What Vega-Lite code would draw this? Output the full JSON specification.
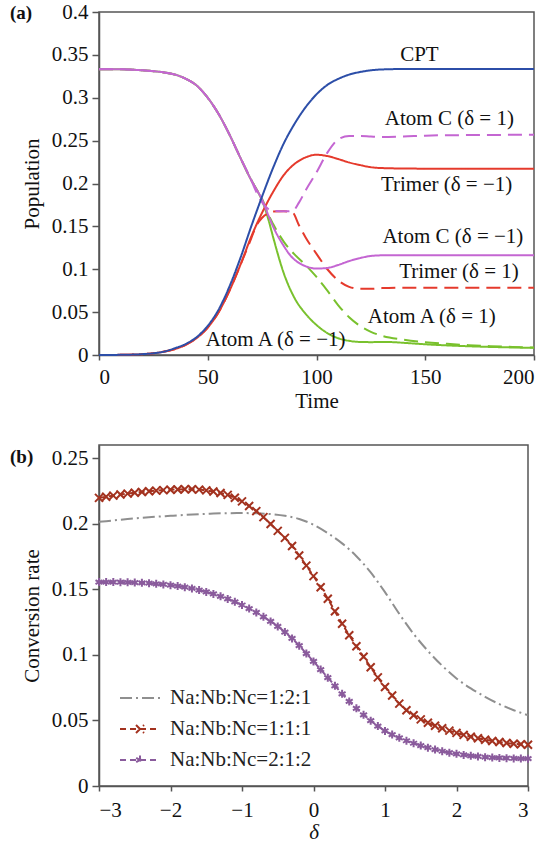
{
  "$schema": "https://vega.github.io/schema/vega-lite/v6.json",
  "padding": {"left": 9, "top": 0, "right": 0, "bottom": 0},
  "spacing": 32,
  "resolve": {"scale": {"color": "independent", "strokeDash": "independent", "shape": "independent"}, "legend": {"color": "independent", "strokeDash": "independent", "shape": "independent"}},
  "config": {
    "font": "Liberation Serif",
    "view": {"stroke": "#555", "strokeWidth": 1.5},
    "axis": {"grid": false, "domainColor": "#555", "domainWidth": 1.5, "tickColor": "#555", "tickWidth": 1.5, "tickSize": 7, "labelFont": "Liberation Serif", "labelFontSize": 21, "labelColor": "#111", "labelPadding": 4, "titleFont": "Liberation Serif", "titleFontSize": 21, "titleFontWeight": "normal", "titleColor": "#111"},
    "axisX": {"titlePadding": 3, "tickSize": 5, "labelPadding": 6},
    "axisY": {"titlePadding": 9},
    "legend": {"labelFont": "Liberation Serif"},
    "title": {"font": "Liberation Serif", "fontSize": 19, "fontWeight": "bold", "color": "#111"}
  },
  "datasets": {
    "top": [
      {"t":0,"v":0.3333,"s":"AtomA","d":"1"},{"t":10,"v":0.3332,"s":"AtomA","d":"1"},{"t":20,"v":0.332,"s":"AtomA","d":"1"},{"t":25,"v":0.331,"s":"AtomA","d":"1"},{"t":30,"v":0.3295,"s":"AtomA","d":"1"},{"t":35,"v":0.327,"s":"AtomA","d":"1"},{"t":40,"v":0.322,"s":"AtomA","d":"1"},{"t":45,"v":0.314,"s":"AtomA","d":"1"},{"t":50,"v":0.3,"s":"AtomA","d":"1"},{"t":55,"v":0.281,"s":"AtomA","d":"1"},{"t":60,"v":0.257,"s":"AtomA","d":"1"},{"t":65,"v":0.23,"s":"AtomA","d":"1"},{"t":70,"v":0.204,"s":"AtomA","d":"1"},{"t":72,"v":0.195,"s":"AtomA","d":"1"},{"t":75,"v":0.182,"s":"AtomA","d":"1"},{"t":78,"v":0.163,"s":"AtomA","d":"1"},{"t":80,"v":0.153,"s":"AtomA","d":"1"},{"t":85,"v":0.132,"s":"AtomA","d":"1"},{"t":90,"v":0.117,"s":"AtomA","d":"1"},{"t":95,"v":0.105,"s":"AtomA","d":"1"},{"t":100,"v":0.091,"s":"AtomA","d":"1"},{"t":105,"v":0.075,"s":"AtomA","d":"1"},{"t":110,"v":0.058,"s":"AtomA","d":"1"},{"t":115,"v":0.044,"s":"AtomA","d":"1"},{"t":120,"v":0.034,"s":"AtomA","d":"1"},{"t":125,"v":0.027,"s":"AtomA","d":"1"},{"t":130,"v":0.0225,"s":"AtomA","d":"1"},{"t":140,"v":0.018,"s":"AtomA","d":"1"},{"t":150,"v":0.015,"s":"AtomA","d":"1"},{"t":160,"v":0.013,"s":"AtomA","d":"1"},{"t":170,"v":0.0115,"s":"AtomA","d":"1"},{"t":180,"v":0.0103,"s":"AtomA","d":"1"},{"t":190,"v":0.0094,"s":"AtomA","d":"1"},{"t":200,"v":0.0087,"s":"AtomA","d":"1"},

      {"t":0,"v":0.3333,"s":"AtomA","d":"-1"},{"t":10,"v":0.3332,"s":"AtomA","d":"-1"},{"t":20,"v":0.332,"s":"AtomA","d":"-1"},{"t":25,"v":0.331,"s":"AtomA","d":"-1"},{"t":30,"v":0.3295,"s":"AtomA","d":"-1"},{"t":35,"v":0.327,"s":"AtomA","d":"-1"},{"t":40,"v":0.322,"s":"AtomA","d":"-1"},{"t":45,"v":0.314,"s":"AtomA","d":"-1"},{"t":50,"v":0.3,"s":"AtomA","d":"-1"},{"t":55,"v":0.281,"s":"AtomA","d":"-1"},{"t":60,"v":0.257,"s":"AtomA","d":"-1"},{"t":65,"v":0.23,"s":"AtomA","d":"-1"},{"t":70,"v":0.204,"s":"AtomA","d":"-1"},{"t":72,"v":0.195,"s":"AtomA","d":"-1"},{"t":75,"v":0.18,"s":"AtomA","d":"-1"},{"t":78,"v":0.157,"s":"AtomA","d":"-1"},{"t":80,"v":0.138,"s":"AtomA","d":"-1"},{"t":85,"v":0.095,"s":"AtomA","d":"-1"},{"t":90,"v":0.066,"s":"AtomA","d":"-1"},{"t":95,"v":0.048,"s":"AtomA","d":"-1"},{"t":100,"v":0.035,"s":"AtomA","d":"-1"},{"t":105,"v":0.0255,"s":"AtomA","d":"-1"},{"t":110,"v":0.0195,"s":"AtomA","d":"-1"},{"t":115,"v":0.0165,"s":"AtomA","d":"-1"},{"t":120,"v":0.0152,"s":"AtomA","d":"-1"},{"t":125,"v":0.015,"s":"AtomA","d":"-1"},{"t":130,"v":0.0152,"s":"AtomA","d":"-1"},{"t":135,"v":0.015,"s":"AtomA","d":"-1"},{"t":140,"v":0.0142,"s":"AtomA","d":"-1"},{"t":150,"v":0.0125,"s":"AtomA","d":"-1"},{"t":160,"v":0.0112,"s":"AtomA","d":"-1"},{"t":170,"v":0.0102,"s":"AtomA","d":"-1"},{"t":180,"v":0.0094,"s":"AtomA","d":"-1"},{"t":190,"v":0.0088,"s":"AtomA","d":"-1"},{"t":200,"v":0.0083,"s":"AtomA","d":"-1"},

      {"t":0,"v":0,"s":"Trimer","d":"1"},{"t":10,"v":0.0002,"s":"Trimer","d":"1"},{"t":20,"v":0.001,"s":"Trimer","d":"1"},{"t":25,"v":0.002,"s":"Trimer","d":"1"},{"t":30,"v":0.004,"s":"Trimer","d":"1"},{"t":35,"v":0.007,"s":"Trimer","d":"1"},{"t":40,"v":0.012,"s":"Trimer","d":"1"},{"t":45,"v":0.02,"s":"Trimer","d":"1"},{"t":50,"v":0.032,"s":"Trimer","d":"1"},{"t":55,"v":0.05,"s":"Trimer","d":"1"},{"t":60,"v":0.075,"s":"Trimer","d":"1"},{"t":65,"v":0.105,"s":"Trimer","d":"1"},{"t":70,"v":0.136,"s":"Trimer","d":"1"},{"t":72,"v":0.149,"s":"Trimer","d":"1"},{"t":75,"v":0.16,"s":"Trimer","d":"1"},{"t":78,"v":0.1655,"s":"Trimer","d":"1"},{"t":80,"v":0.1672,"s":"Trimer","d":"1"},{"t":85,"v":0.1675,"s":"Trimer","d":"1"},{"t":89,"v":0.166,"s":"Trimer","d":"1"},{"t":92,"v":0.151,"s":"Trimer","d":"1"},{"t":95,"v":0.137,"s":"Trimer","d":"1"},{"t":100,"v":0.118,"s":"Trimer","d":"1"},{"t":105,"v":0.1,"s":"Trimer","d":"1"},{"t":110,"v":0.087,"s":"Trimer","d":"1"},{"t":115,"v":0.0795,"s":"Trimer","d":"1"},{"t":120,"v":0.0772,"s":"Trimer","d":"1"},{"t":125,"v":0.0772,"s":"Trimer","d":"1"},{"t":130,"v":0.078,"s":"Trimer","d":"1"},{"t":140,"v":0.0785,"s":"Trimer","d":"1"},{"t":160,"v":0.0785,"s":"Trimer","d":"1"},{"t":200,"v":0.0785,"s":"Trimer","d":"1"},

      {"t":0,"v":0,"s":"Trimer","d":"-1"},{"t":10,"v":0.0002,"s":"Trimer","d":"-1"},{"t":20,"v":0.001,"s":"Trimer","d":"-1"},{"t":25,"v":0.002,"s":"Trimer","d":"-1"},{"t":30,"v":0.004,"s":"Trimer","d":"-1"},{"t":35,"v":0.007,"s":"Trimer","d":"-1"},{"t":40,"v":0.012,"s":"Trimer","d":"-1"},{"t":45,"v":0.02,"s":"Trimer","d":"-1"},{"t":50,"v":0.032,"s":"Trimer","d":"-1"},{"t":55,"v":0.05,"s":"Trimer","d":"-1"},{"t":60,"v":0.075,"s":"Trimer","d":"-1"},{"t":65,"v":0.105,"s":"Trimer","d":"-1"},{"t":70,"v":0.138,"s":"Trimer","d":"-1"},{"t":75,"v":0.166,"s":"Trimer","d":"-1"},{"t":80,"v":0.19,"s":"Trimer","d":"-1"},{"t":85,"v":0.21,"s":"Trimer","d":"-1"},{"t":90,"v":0.223,"s":"Trimer","d":"-1"},{"t":95,"v":0.2305,"s":"Trimer","d":"-1"},{"t":100,"v":0.2335,"s":"Trimer","d":"-1"},{"t":105,"v":0.232,"s":"Trimer","d":"-1"},{"t":110,"v":0.2285,"s":"Trimer","d":"-1"},{"t":115,"v":0.2245,"s":"Trimer","d":"-1"},{"t":120,"v":0.2215,"s":"Trimer","d":"-1"},{"t":125,"v":0.219,"s":"Trimer","d":"-1"},{"t":130,"v":0.218,"s":"Trimer","d":"-1"},{"t":140,"v":0.2175,"s":"Trimer","d":"-1"},{"t":160,"v":0.2172,"s":"Trimer","d":"-1"},{"t":200,"v":0.2172,"s":"Trimer","d":"-1"},

      {"t":0,"v":0.3333,"s":"AtomC","d":"1"},{"t":10,"v":0.3332,"s":"AtomC","d":"1"},{"t":20,"v":0.332,"s":"AtomC","d":"1"},{"t":25,"v":0.331,"s":"AtomC","d":"1"},{"t":30,"v":0.3295,"s":"AtomC","d":"1"},{"t":35,"v":0.327,"s":"AtomC","d":"1"},{"t":40,"v":0.322,"s":"AtomC","d":"1"},{"t":45,"v":0.314,"s":"AtomC","d":"1"},{"t":50,"v":0.3,"s":"AtomC","d":"1"},{"t":55,"v":0.281,"s":"AtomC","d":"1"},{"t":60,"v":0.257,"s":"AtomC","d":"1"},{"t":65,"v":0.23,"s":"AtomC","d":"1"},{"t":70,"v":0.204,"s":"AtomC","d":"1"},{"t":72,"v":0.192,"s":"AtomC","d":"1"},{"t":75,"v":0.178,"s":"AtomC","d":"1"},{"t":78,"v":0.17,"s":"AtomC","d":"1"},{"t":80,"v":0.168,"s":"AtomC","d":"1"},{"t":85,"v":0.1675,"s":"AtomC","d":"1"},{"t":89,"v":0.168,"s":"AtomC","d":"1"},{"t":92,"v":0.178,"s":"AtomC","d":"1"},{"t":95,"v":0.192,"s":"AtomC","d":"1"},{"t":100,"v":0.213,"s":"AtomC","d":"1"},{"t":105,"v":0.236,"s":"AtomC","d":"1"},{"t":110,"v":0.2515,"s":"AtomC","d":"1"},{"t":115,"v":0.2555,"s":"AtomC","d":"1"},{"t":120,"v":0.2555,"s":"AtomC","d":"1"},{"t":125,"v":0.2548,"s":"AtomC","d":"1"},{"t":130,"v":0.2543,"s":"AtomC","d":"1"},{"t":140,"v":0.2548,"s":"AtomC","d":"1"},{"t":150,"v":0.2558,"s":"AtomC","d":"1"},{"t":170,"v":0.2565,"s":"AtomC","d":"1"},{"t":200,"v":0.2568,"s":"AtomC","d":"1"},

      {"t":0,"v":0.3333,"s":"AtomC","d":"-1"},{"t":10,"v":0.3332,"s":"AtomC","d":"-1"},{"t":20,"v":0.332,"s":"AtomC","d":"-1"},{"t":25,"v":0.331,"s":"AtomC","d":"-1"},{"t":30,"v":0.3295,"s":"AtomC","d":"-1"},{"t":35,"v":0.327,"s":"AtomC","d":"-1"},{"t":40,"v":0.322,"s":"AtomC","d":"-1"},{"t":45,"v":0.314,"s":"AtomC","d":"-1"},{"t":50,"v":0.3,"s":"AtomC","d":"-1"},{"t":55,"v":0.281,"s":"AtomC","d":"-1"},{"t":60,"v":0.257,"s":"AtomC","d":"-1"},{"t":65,"v":0.23,"s":"AtomC","d":"-1"},{"t":70,"v":0.204,"s":"AtomC","d":"-1"},{"t":72,"v":0.195,"s":"AtomC","d":"-1"},{"t":75,"v":0.181,"s":"AtomC","d":"-1"},{"t":78,"v":0.162,"s":"AtomC","d":"-1"},{"t":80,"v":0.15,"s":"AtomC","d":"-1"},{"t":85,"v":0.127,"s":"AtomC","d":"-1"},{"t":88,"v":0.116,"s":"AtomC","d":"-1"},{"t":90,"v":0.111,"s":"AtomC","d":"-1"},{"t":95,"v":0.1035,"s":"AtomC","d":"-1"},{"t":100,"v":0.1008,"s":"AtomC","d":"-1"},{"t":105,"v":0.1015,"s":"AtomC","d":"-1"},{"t":110,"v":0.105,"s":"AtomC","d":"-1"},{"t":115,"v":0.1095,"s":"AtomC","d":"-1"},{"t":120,"v":0.113,"s":"AtomC","d":"-1"},{"t":125,"v":0.1155,"s":"AtomC","d":"-1"},{"t":130,"v":0.1162,"s":"AtomC","d":"-1"},{"t":140,"v":0.1162,"s":"AtomC","d":"-1"},{"t":200,"v":0.1162,"s":"AtomC","d":"-1"},

      {"t":0,"v":0,"s":"CPT","d":"-1"},{"t":10,"v":0.0002,"s":"CPT","d":"-1"},{"t":20,"v":0.001,"s":"CPT","d":"-1"},{"t":25,"v":0.002,"s":"CPT","d":"-1"},{"t":30,"v":0.004,"s":"CPT","d":"-1"},{"t":35,"v":0.008,"s":"CPT","d":"-1"},{"t":40,"v":0.013,"s":"CPT","d":"-1"},{"t":45,"v":0.021,"s":"CPT","d":"-1"},{"t":50,"v":0.034,"s":"CPT","d":"-1"},{"t":55,"v":0.053,"s":"CPT","d":"-1"},{"t":60,"v":0.08,"s":"CPT","d":"-1"},{"t":65,"v":0.113,"s":"CPT","d":"-1"},{"t":70,"v":0.15,"s":"CPT","d":"-1"},{"t":75,"v":0.185,"s":"CPT","d":"-1"},{"t":80,"v":0.218,"s":"CPT","d":"-1"},{"t":85,"v":0.247,"s":"CPT","d":"-1"},{"t":90,"v":0.27,"s":"CPT","d":"-1"},{"t":95,"v":0.289,"s":"CPT","d":"-1"},{"t":100,"v":0.304,"s":"CPT","d":"-1"},{"t":105,"v":0.315,"s":"CPT","d":"-1"},{"t":110,"v":0.322,"s":"CPT","d":"-1"},{"t":115,"v":0.327,"s":"CPT","d":"-1"},{"t":120,"v":0.33,"s":"CPT","d":"-1"},{"t":125,"v":0.332,"s":"CPT","d":"-1"},{"t":130,"v":0.333,"s":"CPT","d":"-1"},{"t":140,"v":0.3335,"s":"CPT","d":"-1"},{"t":200,"v":0.3335,"s":"CPT","d":"-1"}
    ],
    "labels": [
      {"t":147.3,"v":0.3495,"label":"CPT"},
      {"t":161.1,"v":0.2756,"label":"Atom C (δ = 1)"},
      {"t":159.8,"v":0.1986,"label":"Trimer (δ = −1)"},
      {"t":162.7,"v":0.1376,"label":"Atom C (δ = −1)"},
      {"t":165.5,"v":0.0968,"label":"Trimer  (δ = 1)"},
      {"t":153,"v":0.0443,"label":"Atom A (δ = 1)"},
      {"t":81.2,"v":0.0171,"label":"Atom A (δ = −1)"}
    ],
    "bottom": [
      {"x":-3.0,"y":0.2014,"r":"Na:Nb:Nc=1:2:1"},{"x":-2.8,"y":0.2025,"r":"Na:Nb:Nc=1:2:1"},{"x":-2.6,"y":0.2036,"r":"Na:Nb:Nc=1:2:1"},{"x":-2.4,"y":0.2045,"r":"Na:Nb:Nc=1:2:1"},{"x":-2.2,"y":0.2053,"r":"Na:Nb:Nc=1:2:1"},{"x":-2.0,"y":0.206,"r":"Na:Nb:Nc=1:2:1"},{"x":-1.8,"y":0.2067,"r":"Na:Nb:Nc=1:2:1"},{"x":-1.6,"y":0.2073,"r":"Na:Nb:Nc=1:2:1"},{"x":-1.4,"y":0.2077,"r":"Na:Nb:Nc=1:2:1"},{"x":-1.2,"y":0.208,"r":"Na:Nb:Nc=1:2:1"},{"x":-1.0,"y":0.2081,"r":"Na:Nb:Nc=1:2:1"},{"x":-0.8,"y":0.2079,"r":"Na:Nb:Nc=1:2:1"},{"x":-0.6,"y":0.2073,"r":"Na:Nb:Nc=1:2:1"},{"x":-0.4,"y":0.206,"r":"Na:Nb:Nc=1:2:1"},{"x":-0.2,"y":0.2036,"r":"Na:Nb:Nc=1:2:1"},{"x":0.0,"y":0.1992,"r":"Na:Nb:Nc=1:2:1"},{"x":0.2,"y":0.1928,"r":"Na:Nb:Nc=1:2:1"},{"x":0.4,"y":0.185,"r":"Na:Nb:Nc=1:2:1"},{"x":0.6,"y":0.1752,"r":"Na:Nb:Nc=1:2:1"},{"x":0.8,"y":0.1628,"r":"Na:Nb:Nc=1:2:1"},{"x":1.0,"y":0.1478,"r":"Na:Nb:Nc=1:2:1"},{"x":1.2,"y":0.1312,"r":"Na:Nb:Nc=1:2:1"},{"x":1.4,"y":0.116,"r":"Na:Nb:Nc=1:2:1"},{"x":1.6,"y":0.103,"r":"Na:Nb:Nc=1:2:1"},{"x":1.8,"y":0.0917,"r":"Na:Nb:Nc=1:2:1"},{"x":2.0,"y":0.082,"r":"Na:Nb:Nc=1:2:1"},{"x":2.2,"y":0.0744,"r":"Na:Nb:Nc=1:2:1"},{"x":2.4,"y":0.068,"r":"Na:Nb:Nc=1:2:1"},{"x":2.6,"y":0.0624,"r":"Na:Nb:Nc=1:2:1"},{"x":2.8,"y":0.0578,"r":"Na:Nb:Nc=1:2:1"},{"x":3.0,"y":0.054,"r":"Na:Nb:Nc=1:2:1"},

      {"x":-3.0,"y":0.2197,"r":"Na:Nb:Nc=1:1:1"},{"x":-2.9,"y":0.2206,"r":"Na:Nb:Nc=1:1:1"},{"x":-2.8,"y":0.2214,"r":"Na:Nb:Nc=1:1:1"},{"x":-2.7,"y":0.2222,"r":"Na:Nb:Nc=1:1:1"},{"x":-2.6,"y":0.2229,"r":"Na:Nb:Nc=1:1:1"},{"x":-2.5,"y":0.2236,"r":"Na:Nb:Nc=1:1:1"},{"x":-2.4,"y":0.2242,"r":"Na:Nb:Nc=1:1:1"},{"x":-2.3,"y":0.2247,"r":"Na:Nb:Nc=1:1:1"},{"x":-2.2,"y":0.2252,"r":"Na:Nb:Nc=1:1:1"},{"x":-2.1,"y":0.2256,"r":"Na:Nb:Nc=1:1:1"},{"x":-2.0,"y":0.2259,"r":"Na:Nb:Nc=1:1:1"},{"x":-1.9,"y":0.2261,"r":"Na:Nb:Nc=1:1:1"},{"x":-1.8,"y":0.2262,"r":"Na:Nb:Nc=1:1:1"},{"x":-1.7,"y":0.2262,"r":"Na:Nb:Nc=1:1:1"},{"x":-1.6,"y":0.226,"r":"Na:Nb:Nc=1:1:1"},{"x":-1.5,"y":0.2254,"r":"Na:Nb:Nc=1:1:1"},{"x":-1.4,"y":0.2246,"r":"Na:Nb:Nc=1:1:1"},{"x":-1.3,"y":0.2234,"r":"Na:Nb:Nc=1:1:1"},{"x":-1.2,"y":0.222,"r":"Na:Nb:Nc=1:1:1"},{"x":-1.1,"y":0.2198,"r":"Na:Nb:Nc=1:1:1"},{"x":-1.0,"y":0.217,"r":"Na:Nb:Nc=1:1:1"},{"x":-0.9,"y":0.2135,"r":"Na:Nb:Nc=1:1:1"},{"x":-0.8,"y":0.2096,"r":"Na:Nb:Nc=1:1:1"},{"x":-0.7,"y":0.205,"r":"Na:Nb:Nc=1:1:1"},{"x":-0.6,"y":0.1998,"r":"Na:Nb:Nc=1:1:1"},{"x":-0.5,"y":0.1945,"r":"Na:Nb:Nc=1:1:1"},{"x":-0.4,"y":0.1892,"r":"Na:Nb:Nc=1:1:1"},{"x":-0.3,"y":0.183,"r":"Na:Nb:Nc=1:1:1"},{"x":-0.2,"y":0.1757,"r":"Na:Nb:Nc=1:1:1"},{"x":-0.1,"y":0.168,"r":"Na:Nb:Nc=1:1:1"},{"x":0.0,"y":0.16,"r":"Na:Nb:Nc=1:1:1"},{"x":0.1,"y":0.1515,"r":"Na:Nb:Nc=1:1:1"},{"x":0.2,"y":0.1428,"r":"Na:Nb:Nc=1:1:1"},{"x":0.3,"y":0.1333,"r":"Na:Nb:Nc=1:1:1"},{"x":0.4,"y":0.1237,"r":"Na:Nb:Nc=1:1:1"},{"x":0.5,"y":0.115,"r":"Na:Nb:Nc=1:1:1"},{"x":0.6,"y":0.1065,"r":"Na:Nb:Nc=1:1:1"},{"x":0.7,"y":0.0985,"r":"Na:Nb:Nc=1:1:1"},{"x":0.8,"y":0.0905,"r":"Na:Nb:Nc=1:1:1"},{"x":0.9,"y":0.0828,"r":"Na:Nb:Nc=1:1:1"},{"x":1.0,"y":0.0755,"r":"Na:Nb:Nc=1:1:1"},{"x":1.1,"y":0.069,"r":"Na:Nb:Nc=1:1:1"},{"x":1.2,"y":0.0628,"r":"Na:Nb:Nc=1:1:1"},{"x":1.3,"y":0.0578,"r":"Na:Nb:Nc=1:1:1"},{"x":1.4,"y":0.054,"r":"Na:Nb:Nc=1:1:1"},{"x":1.5,"y":0.0508,"r":"Na:Nb:Nc=1:1:1"},{"x":1.6,"y":0.0482,"r":"Na:Nb:Nc=1:1:1"},{"x":1.7,"y":0.046,"r":"Na:Nb:Nc=1:1:1"},{"x":1.8,"y":0.044,"r":"Na:Nb:Nc=1:1:1"},{"x":1.9,"y":0.0422,"r":"Na:Nb:Nc=1:1:1"},{"x":2.0,"y":0.0405,"r":"Na:Nb:Nc=1:1:1"},{"x":2.1,"y":0.039,"r":"Na:Nb:Nc=1:1:1"},{"x":2.2,"y":0.0376,"r":"Na:Nb:Nc=1:1:1"},{"x":2.3,"y":0.0364,"r":"Na:Nb:Nc=1:1:1"},{"x":2.4,"y":0.0353,"r":"Na:Nb:Nc=1:1:1"},{"x":2.5,"y":0.0343,"r":"Na:Nb:Nc=1:1:1"},{"x":2.6,"y":0.0335,"r":"Na:Nb:Nc=1:1:1"},{"x":2.7,"y":0.0328,"r":"Na:Nb:Nc=1:1:1"},{"x":2.8,"y":0.0322,"r":"Na:Nb:Nc=1:1:1"},{"x":2.9,"y":0.0318,"r":"Na:Nb:Nc=1:1:1"},{"x":3.0,"y":0.0315,"r":"Na:Nb:Nc=1:1:1"},

      {"x":-3.0,"y":0.1555,"r":"Na:Nb:Nc=2:1:2"},{"x":-2.9,"y":0.1555,"r":"Na:Nb:Nc=2:1:2"},{"x":-2.8,"y":0.1555,"r":"Na:Nb:Nc=2:1:2"},{"x":-2.7,"y":0.1554,"r":"Na:Nb:Nc=2:1:2"},{"x":-2.6,"y":0.1553,"r":"Na:Nb:Nc=2:1:2"},{"x":-2.5,"y":0.1551,"r":"Na:Nb:Nc=2:1:2"},{"x":-2.4,"y":0.1549,"r":"Na:Nb:Nc=2:1:2"},{"x":-2.3,"y":0.1546,"r":"Na:Nb:Nc=2:1:2"},{"x":-2.2,"y":0.1542,"r":"Na:Nb:Nc=2:1:2"},{"x":-2.1,"y":0.1537,"r":"Na:Nb:Nc=2:1:2"},{"x":-2.0,"y":0.1531,"r":"Na:Nb:Nc=2:1:2"},{"x":-1.9,"y":0.1524,"r":"Na:Nb:Nc=2:1:2"},{"x":-1.8,"y":0.1516,"r":"Na:Nb:Nc=2:1:2"},{"x":-1.7,"y":0.1506,"r":"Na:Nb:Nc=2:1:2"},{"x":-1.6,"y":0.1494,"r":"Na:Nb:Nc=2:1:2"},{"x":-1.5,"y":0.148,"r":"Na:Nb:Nc=2:1:2"},{"x":-1.4,"y":0.1464,"r":"Na:Nb:Nc=2:1:2"},{"x":-1.3,"y":0.1446,"r":"Na:Nb:Nc=2:1:2"},{"x":-1.2,"y":0.1426,"r":"Na:Nb:Nc=2:1:2"},{"x":-1.1,"y":0.1404,"r":"Na:Nb:Nc=2:1:2"},{"x":-1.0,"y":0.138,"r":"Na:Nb:Nc=2:1:2"},{"x":-0.9,"y":0.1353,"r":"Na:Nb:Nc=2:1:2"},{"x":-0.8,"y":0.1323,"r":"Na:Nb:Nc=2:1:2"},{"x":-0.7,"y":0.129,"r":"Na:Nb:Nc=2:1:2"},{"x":-0.6,"y":0.1255,"r":"Na:Nb:Nc=2:1:2"},{"x":-0.5,"y":0.1217,"r":"Na:Nb:Nc=2:1:2"},{"x":-0.4,"y":0.1174,"r":"Na:Nb:Nc=2:1:2"},{"x":-0.3,"y":0.1125,"r":"Na:Nb:Nc=2:1:2"},{"x":-0.2,"y":0.107,"r":"Na:Nb:Nc=2:1:2"},{"x":-0.1,"y":0.101,"r":"Na:Nb:Nc=2:1:2"},{"x":0.0,"y":0.095,"r":"Na:Nb:Nc=2:1:2"},{"x":0.1,"y":0.0888,"r":"Na:Nb:Nc=2:1:2"},{"x":0.2,"y":0.0826,"r":"Na:Nb:Nc=2:1:2"},{"x":0.3,"y":0.0764,"r":"Na:Nb:Nc=2:1:2"},{"x":0.4,"y":0.0703,"r":"Na:Nb:Nc=2:1:2"},{"x":0.5,"y":0.0645,"r":"Na:Nb:Nc=2:1:2"},{"x":0.6,"y":0.0592,"r":"Na:Nb:Nc=2:1:2"},{"x":0.7,"y":0.0543,"r":"Na:Nb:Nc=2:1:2"},{"x":0.8,"y":0.0498,"r":"Na:Nb:Nc=2:1:2"},{"x":0.9,"y":0.0457,"r":"Na:Nb:Nc=2:1:2"},{"x":1.0,"y":0.042,"r":"Na:Nb:Nc=2:1:2"},{"x":1.1,"y":0.0392,"r":"Na:Nb:Nc=2:1:2"},{"x":1.2,"y":0.0367,"r":"Na:Nb:Nc=2:1:2"},{"x":1.3,"y":0.0345,"r":"Na:Nb:Nc=2:1:2"},{"x":1.4,"y":0.0326,"r":"Na:Nb:Nc=2:1:2"},{"x":1.5,"y":0.0308,"r":"Na:Nb:Nc=2:1:2"},{"x":1.6,"y":0.0292,"r":"Na:Nb:Nc=2:1:2"},{"x":1.7,"y":0.0278,"r":"Na:Nb:Nc=2:1:2"},{"x":1.8,"y":0.0265,"r":"Na:Nb:Nc=2:1:2"},{"x":1.9,"y":0.0254,"r":"Na:Nb:Nc=2:1:2"},{"x":2.0,"y":0.0245,"r":"Na:Nb:Nc=2:1:2"},{"x":2.1,"y":0.0237,"r":"Na:Nb:Nc=2:1:2"},{"x":2.2,"y":0.023,"r":"Na:Nb:Nc=2:1:2"},{"x":2.3,"y":0.0225,"r":"Na:Nb:Nc=2:1:2"},{"x":2.4,"y":0.022,"r":"Na:Nb:Nc=2:1:2"},{"x":2.5,"y":0.0217,"r":"Na:Nb:Nc=2:1:2"},{"x":2.6,"y":0.0214,"r":"Na:Nb:Nc=2:1:2"},{"x":2.7,"y":0.0212,"r":"Na:Nb:Nc=2:1:2"},{"x":2.8,"y":0.021,"r":"Na:Nb:Nc=2:1:2"},{"x":2.9,"y":0.0209,"r":"Na:Nb:Nc=2:1:2"},{"x":3.0,"y":0.0208,"r":"Na:Nb:Nc=2:1:2"}
    ]
  },
  "vconcat": [
    {
      "width": 435,
      "height": 343,
      "title": {"text": "(a)", "anchor": "start", "frame": "group", "offset": -22, "dx": -89},
      "layer": [
        {
          "data": {"name": "top"},
          "mark": {"type": "line", "strokeWidth": 2, "interpolate": "monotone"},
          "encoding": {
            "x": {"field": "t", "type": "quantitative", "scale": {"domain": [0, 200]}, "axis": {"values": [0, 50, 100, 150, 200], "title": "Time"}},
            "y": {"field": "v", "type": "quantitative", "scale": {"domain": [0, 0.4]}, "axis": {"values": [0, 0.05, 0.1, 0.15, 0.2, 0.25, 0.3, 0.35, 0.4], "format": "~g", "title": "Population"}},
            "color": {"field": "s", "type": "nominal", "scale": {"domain": ["CPT", "Trimer", "AtomC", "AtomA"], "range": ["#2c4ea8", "#e53a2c", "#c466d2", "#79c12d"]}, "legend": null},
            "strokeDash": {"field": "d", "type": "nominal", "scale": {"domain": ["-1", "1"], "range": [[1, 0], [14, 7]]}, "legend": null}
          }
        },
        {
          "data": {"name": "labels"},
          "mark": {"type": "text", "fontSize": 21, "font": "Liberation Serif", "color": "#111"},
          "encoding": {
            "x": {"field": "t", "type": "quantitative"},
            "y": {"field": "v", "type": "quantitative"},
            "text": {"field": "label"}
          }
        }
      ]
    },
    {
      "width": 429,
      "height": 341,
      "title": {"text": "(b)", "anchor": "start", "frame": "group", "offset": -22, "dx": -89},
      "layer": [
        {
          "data": {"name": "bottom"},
          "mark": {"type": "line", "strokeWidth": 2, "interpolate": "monotone"},
          "encoding": {
            "x": {"field": "x", "type": "quantitative", "scale": {"domain": [-3, 3]}, "axis": {"values": [-3, -2, -1, 0, 1, 2, 3], "format": "~g", "title": "δ", "titleFontStyle": "italic", "labelPadding": 8, "titlePadding": 1}},
            "y": {"field": "y", "type": "quantitative", "scale": {"domain": [0, 0.25]}, "axis": {"values": [0, 0.05, 0.1, 0.15, 0.2, 0.25], "format": "~g", "title": "Conversion rate"}},
            "color": {"field": "r", "type": "nominal", "scale": {"domain": ["Na:Nb:Nc=1:2:1", "Na:Nb:Nc=1:1:1", "Na:Nb:Nc=2:1:2"], "range": ["#8f8f8f", "#a3321f", "#8a5b9c"]},
              "legend": {"orient": "none", "legendX": 20, "legendY": 232, "title": null, "symbolType": "stroke", "symbolSize": 1600, "symbolStrokeWidth": 2, "labelFontSize": 21, "labelOffset": 9, "rowPadding": -7, "labelLimit": 300, "labelColor": "#222",
                "encode": {"symbols": {"update": {"shape": {"signal": "datum.value === 'Na:Nb:Nc=1:1:1' ? 'M-1,0L1,0M-0.2,-0.2L0.2,0.2M-0.2,0.2L0.2,-0.2' : datum.value === 'Na:Nb:Nc=2:1:2' ? 'M-1,0L1,0M0,-0.22L0,0.22M-0.19,-0.11L0.19,0.11M-0.19,0.11L0.19,-0.11' : 'stroke'"}}}}}},
            "strokeDash": {"field": "r", "type": "nominal", "scale": {"domain": ["Na:Nb:Nc=1:2:1", "Na:Nb:Nc=1:1:1", "Na:Nb:Nc=2:1:2"], "range": [[12, 4, 2, 4], [6, 4], [6, 4]]}}
          }
        },
        {
          "data": {"name": "bottom"},
          "transform": [{"filter": "datum.r !== 'Na:Nb:Nc=1:2:1'"}],
          "mark": {"type": "point", "filled": false, "strokeWidth": 2, "size": 64, "opacity": 1},
          "encoding": {
            "x": {"field": "x", "type": "quantitative"},
            "y": {"field": "y", "type": "quantitative"},
            "color": {"field": "r", "type": "nominal"},
            "shape": {"field": "r", "type": "nominal", "scale": {"domain": ["Na:Nb:Nc=1:1:1", "Na:Nb:Nc=2:1:2"], "range": ["M-1,-1L1,1M-1,1L1,-1", "M0,-1L0,1M-0.87,-0.5L0.87,0.5M-0.87,0.5L0.87,-0.5"]}, "legend": null}
          }
        }
      ]
    }
  ]
}
